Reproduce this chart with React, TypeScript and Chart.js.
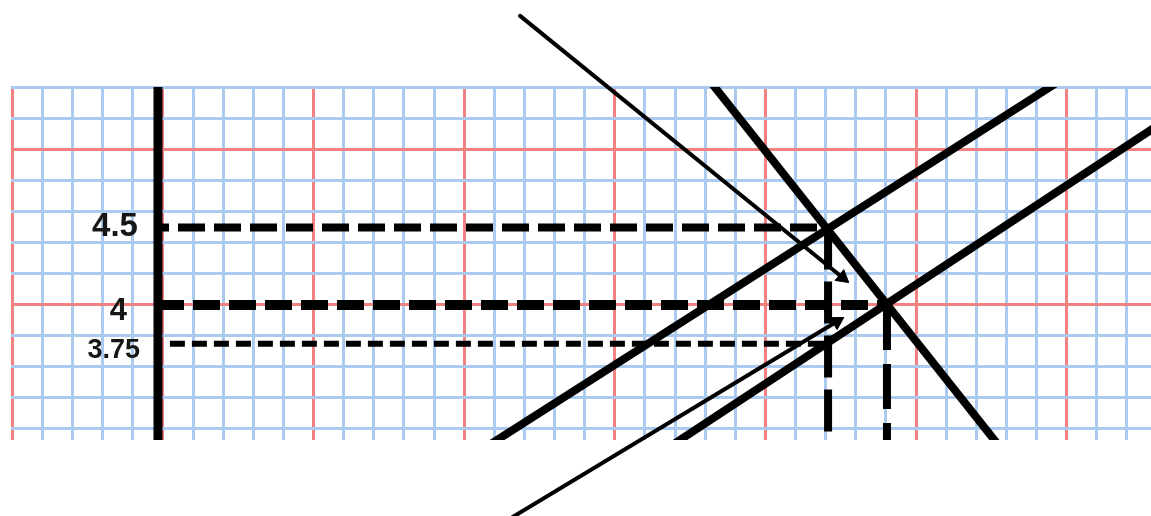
import React, { useEffect, useRef } from 'react';
import { Chart, registerables } from 'chart.js';

Chart.register(...registerables);

// ---- data (graph units: 1 red square = 1 unit, 1 blue cell = 0.2) ----
const xRange = [-1.009, 6.56];
const yRange = [3.129, 5.406];
const gridStep = 0.2;

const axisLine = [{ x: -0.033, y: 3.0 }, { x: -0.033, y: 5.5 }];
const steepLine = [{ x: 3.627, y: 5.45 }, { x: 5.56, y: 3.08 }];
const upperLine = [{ x: 2.139, y: 3.08 }, { x: 5.961, y: 5.45 }];
const lowerLine = [{ x: 3.356, y: 3.08 }, { x: 6.6, y: 5.155 }];
const guide45 = [{ x: -0.033, y: 4.5 }, { x: 4.416, y: 4.5 }];
const guide4 = [{ x: -0.033, y: 4.0 }, { x: 4.807, y: 4.0 }];
const guide375 = [{ x: 0.046, y: 3.75 }, { x: 4.416, y: 3.75 }];
const dropA = [{ x: 4.416, y: 4.5 }, { x: 4.416, y: 3.08 }];
const dropB = [{ x: 4.807, y: 4.0 }, { x: 4.807, y: 3.08 }];
const arrowTop = [{ x: 2.371, y: 5.865 }, { x: 4.512, y: 4.177 }];
const arrowBottom = [{ x: 2.178, y: 2.548 }, { x: 4.475, y: 3.893 }];

const valueLabels = ['4.5', '4', '3.75'];
const labelValues = [4.5, 4.0, 3.75];

// ---- styles ----
const labelStyles = [
  { size: 33, dx: -25, dy: 9 },
  { size: 31, dx: -36, dy: 15 },
  { size: 27, dx: -23, dy: 14 },
];
const BLUE = 'rgb(170,202,240)';
const RED = 'rgb(242,130,130)';

const labelPlugin = {
  id: 'valueLabels',
  afterDatasetsDraw(chart: any) {
    const { ctx, scales } = chart;
    const xs = scales.x;
    const ys = scales.y;
    ctx.save();
    ctx.fillStyle = '#161616';
    ctx.textAlign = 'right';
    ctx.textBaseline = 'alphabetic';
    valueLabels.forEach((t, i) => {
      const s = labelStyles[i];
      ctx.font = `bold ${s.size}px "Liberation Sans", Arial, sans-serif`;
      ctx.fillText(t, xs.getPixelForValue(0) + s.dx, ys.getPixelForValue(labelValues[i]) + s.dy);
    });
    ctx.restore();
  },
};

const isMajor = (v: number) => Math.abs(v - Math.round(v)) < 1e-6;

export default function App() {
  const ref = useRef<HTMLCanvasElement | null>(null);

  useEffect(() => {
    if (!ref.current) return;
    const line = (data: any[], width: number, extra: any = {}) => ({
      data,
      showLine: true,
      borderColor: '#000',
      backgroundColor: '#000',
      borderWidth: width,
      pointRadius: 0,
      borderCapStyle: 'butt',
      clip: 0,
      ...extra,
    });
    const arrow = (data: any[], rot: number) =>
      line(data, 4, {
        clip: false,
        pointRadius: [0, 8],
        pointStyle: 'triangle',
        pointRotation: [0, rot],
        pointBackgroundColor: '#000',
        pointBorderColor: '#000',
        pointBorderWidth: 1,
        borderCapStyle: 'round',
      });

    const chart = new Chart(ref.current, {
      type: 'scatter',
      data: {
        datasets: [
          arrow(arrowTop, 129),
          arrow(arrowBottom, 59),
          line(steepLine, 8),
          line(upperLine, 8),
          line(lowerLine, 8),
          line(guide45, 8, { borderDash: [27, 9], borderDashOffset: 16, clip: false }),
          line(guide4, 10, { borderDash: [27, 9], borderDashOffset: 1, clip: false }),
          line(guide375, 6, { borderDash: [15, 7], clip: false }),
          line(dropA, 8, { borderDash: [42, 12] }),
          line(dropB, 8, { borderDash: [45, 14] }),
          line(axisLine, 9),
        ] as any,
      },
      options: {
        responsive: false,
        animation: false,
        events: [],
        layout: { autoPadding: false, padding: { left: 11, top: 87, right: 0, bottom: 76 } },
        plugins: { legend: { display: false }, tooltip: { enabled: false } },
        scales: {
          x: {
            type: 'linear',
            min: xRange[0],
            max: xRange[1],
            ticks: { display: false, stepSize: gridStep, includeBounds: false },
            border: { display: false },
            grid: {
              drawTicks: false,
              lineWidth: 3,
              color: (c: any) => (isMajor(c.tick.value) ? RED : BLUE),
            },
          },
          y: {
            type: 'linear',
            min: yRange[0],
            max: yRange[1],
            ticks: { display: false, stepSize: gridStep, includeBounds: false },
            border: { display: false },
            grid: {
              drawTicks: false,
              lineWidth: 3,
              color: (c: any) => (isMajor(c.tick.value) ? RED : BLUE),
            },
          },
        },
      },
      plugins: [labelPlugin],
    } as any);
    return () => chart.destroy();
  }, []);

  return (
    <div style={{ position: 'absolute', left: 0, top: 0, width: 1151, height: 516, background: '#fff' }}>
      <canvas ref={ref} width={1151} height={516} style={{ display: 'block' }} />
    </div>
  );
}
